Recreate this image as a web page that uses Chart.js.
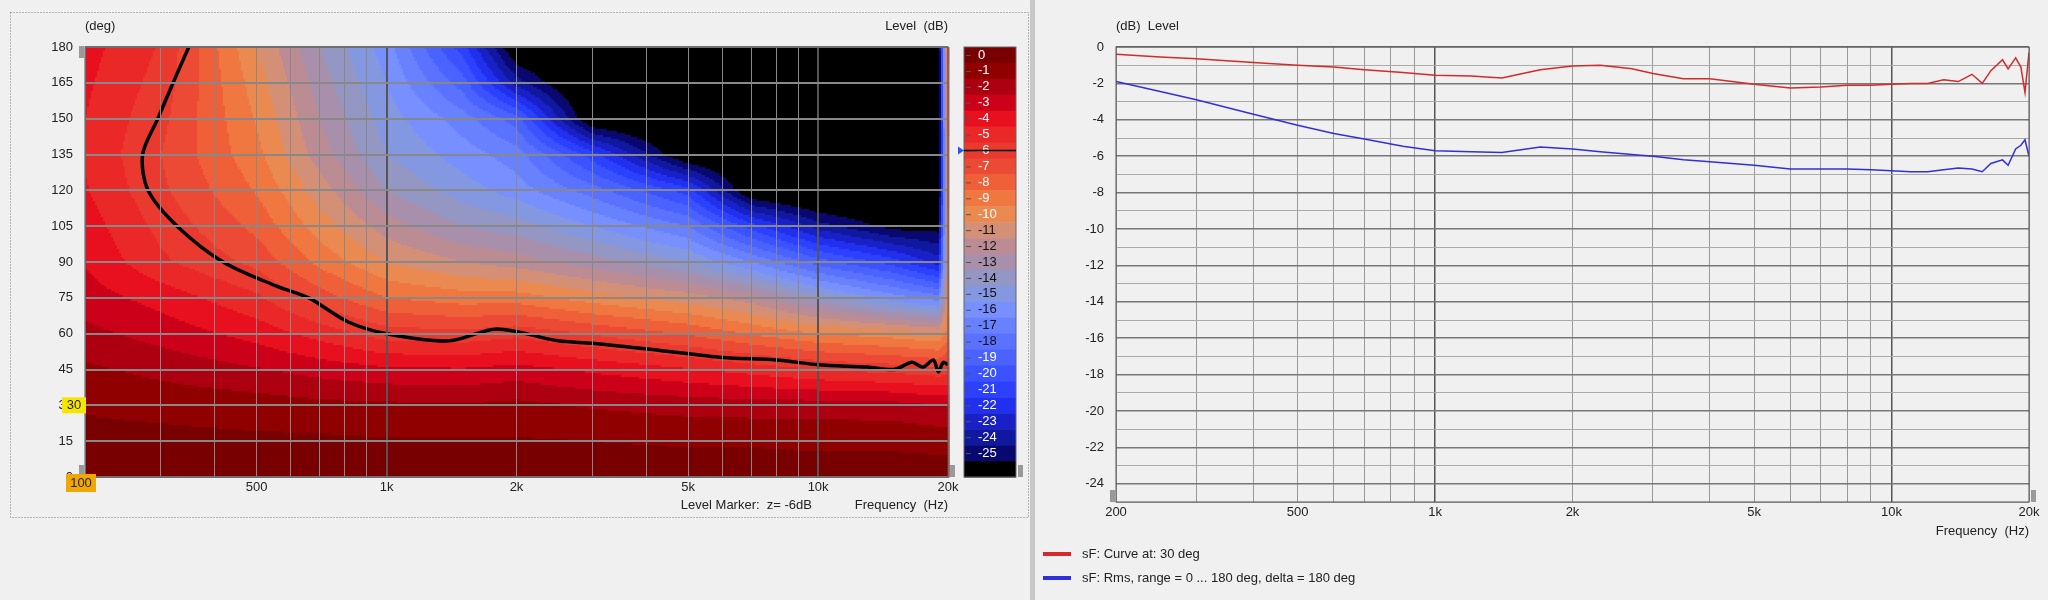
<!DOCTYPE html>
<html>
<head>
<meta charset="utf-8">
<script src="https://cdn.jsdelivr.net/npm/chart.js@4.4.1/dist/chart.umd.min.js"></script>
<style>
  body { margin: 0; background: #f0f0f0; width: 2048px; height: 600px; overflow: hidden; font-family: "Liberation Sans", sans-serif; }
  #left { position: absolute; left: 0; top: 0; }
  #right { position: absolute; left: 1036px; top: 0; }
  #sep { position: absolute; left: 1030px; top: 0; width: 5px; height: 600px; background: #c8c8c8; }
</style>
</head>
<body>
<canvas id="left" width="1030" height="520"></canvas>
<div id="sep"></div>
<canvas id="right" width="1012" height="600"></canvas>
<script>
// polar map grid (levels in dB, rows = angle, cols = frequency)
const heatFreqs = [200, 300, 500, 700, 1000, 1500, 2000, 3000, 5000, 7000, 10000, 15000, 19000, 20000];
const heatAngles = [0, 15, 30, 45, 60, 75, 90, 105, 120, 135, 150, 165, 180];
const heatLevels = [
  [0, 0, 0, 0, 0, 0, 0, 0, 0, 0, 0, 0, 0, 0],
  [-0.2, -0.2, -0.3, -0.3, -0.4, -0.4, -0.4, -0.5, -0.6, -0.6, -0.7, -0.7, -0.8, -0.8],
  [-0.6, -0.8, -1.0, -1.2, -1.3, -1.4, -1.2, -1.6, -1.9, -2.0, -2.0, -2.1, -2.5, -2.5],
  [-1.3, -1.8, -2.4, -2.9, -3.3, -3.4, -3.1, -3.7, -4.4, -4.9, -5.5, -5.9, -6.2, -6],
  [-2.2, -2.9, -3.9, -4.9, -6.0, -6.2, -5.8, -6.6, -7.6, -8.6, -9.5, -10, -10.5, -9],
  [-3.0, -3.9, -5.3, -7.0, -8.5, -9.0, -9.0, -10, -11, -12, -14, -16, -17, -10],
  [-3.6, -5.3, -6.8, -8.8, -10.5, -11.5, -12, -13, -14.5, -16.5, -19, -21, -23, -11],
  [-4.0, -5.8, -7.8, -10, -12, -13.5, -14, -15.5, -17.5, -21, -24, -26, -26, -10],
  [-4.4, -6.3, -8.6, -11, -13.5, -15, -16, -18, -21, -27, -28, -28, -28, -9],
  [-4.6, -6.5, -9.2, -12, -14.5, -16, -17, -21, -27, -28, -28, -28, -28, -9],
  [-4.5, -6.2, -9.6, -12.5, -15, -17, -19, -27, -28, -28, -28, -28, -28, -8],
  [-4.3, -5.9, -10, -13, -15.5, -19, -24, -28, -28, -28, -28, -28, -28, -8],
  [-4.1, -5.6, -10.5, -13.5, -16, -21, -27, -28, -28, -28, -28, -28, -28, -7]
];
// -6 dB level marker contour
const markerFreqs = [348, 320, 295, 272, 280, 327, 418, 554, 660, 813, 1000, 1400, 1800, 2500, 3000, 4300, 6000, 8000, 10000, 13000, 15000, 16500, 17500, 18500, 19000, 19500, 20000];
const markerAngles = [180, 165, 150, 135, 120, 105, 90, 80, 75, 65, 60, 57, 62, 57, 56, 53, 50, 49, 47, 46, 45, 48, 46, 49, 44, 48, 47];
// colour scale bands
const bandLevels = [0, -1, -2, -3, -4, -5, -6, -7, -8, -9, -10, -11, -12, -13, -14, -15, -16, -17, -18, -19, -20, -21, -22, -23, -24, -25, -26];
const bandColors = ['#780000', '#900000', '#ac0010', '#cc0018', '#e8101e', '#ea2828', '#ea3a30', '#ec4a34', '#ef6038', '#f07840', '#ea8a50', '#d49076', '#bc8c94', '#a890ac', '#9496c4', '#8498e2', '#7890ff', '#6882ff', '#5a72ff', '#4a62ff', '#3a52ff', '#2c40ff', '#2030ee', '#1a20c8', '#1018a0', '#080870', '#000000'];
const xTicks = [200, 300, 400, 500, 600, 700, 800, 900, 1000, 2000, 3000, 4000, 5000, 6000, 7000, 8000, 9000, 10000, 20000];
const xMajor = [1000, 10000];
const xLabels = { 200: '200', 500: '500', 1000: '1k', 2000: '2k', 5000: '5k', 10000: '10k', 20000: '20k' };
const angleTicks = [0, 15, 30, 45, 60, 75, 90, 105, 120, 135, 150, 165, 180];
// response curves
const curveFreqs = [200, 250, 300, 400, 500, 600, 700, 850, 1000, 1200, 1400, 1700, 2000, 2300, 2700, 3000, 3500, 4000, 5000, 6000, 7000, 8000, 9000, 10000, 11000, 12000, 13000, 14000, 15000, 15800, 16500, 17500, 18000, 18700, 19200, 19600, 20000];
const curve30 = [-0.4, -0.55, -0.65, -0.85, -1.0, -1.1, -1.25, -1.4, -1.55, -1.6, -1.7, -1.25, -1.05, -1.0, -1.2, -1.45, -1.75, -1.75, -2.05, -2.25, -2.2, -2.1, -2.1, -2.05, -2.0, -2.0, -1.8, -1.9, -1.5, -2.0, -1.3, -0.7, -1.2, -0.6, -1.1, -2.5, -0.3];
const curveRms = [-1.9, -2.45, -2.9, -3.7, -4.3, -4.75, -5.05, -5.45, -5.7, -5.75, -5.8, -5.5, -5.6, -5.75, -5.9, -6.0, -6.2, -6.3, -6.5, -6.7, -6.7, -6.7, -6.75, -6.8, -6.85, -6.85, -6.75, -6.65, -6.7, -6.85, -6.4, -6.2, -6.5, -5.6, -5.4, -5.1, -6.0];
const dbTicks = [0, -2, -4, -6, -8, -10, -12, -14, -16, -18, -20, -22, -24];

const FONT = '"Liberation Sans", "DejaVu Sans", sans-serif';

function levelAt(f, a) {
  const lf = Math.log10(f);
  let i = 0;
  while (i < heatFreqs.length - 2 && Math.log10(heatFreqs[i + 1]) < lf) i++;
  let j = 0;
  while (j < heatAngles.length - 2 && heatAngles[j + 1] < a) j++;
  const l0 = Math.log10(heatFreqs[i]), l1 = Math.log10(heatFreqs[i + 1]);
  const tx = Math.min(1, Math.max(0, (lf - l0) / (l1 - l0)));
  const ty = Math.min(1, Math.max(0, (a - heatAngles[j]) / (heatAngles[j + 1] - heatAngles[j])));
  const r0 = heatLevels[j], r1 = heatLevels[j + 1];
  const top = r0[i] * (1 - tx) + r0[i + 1] * tx;
  const bot = r1[i] * (1 - tx) + r1[i + 1] * tx;
  return top * (1 - ty) + bot * ty;
}
function colorFor(v) {
  let k = Math.floor(-v + 0.5);
  if (k < 0) k = 0;
  if (k > bandColors.length - 1) k = bandColors.length - 1;
  return bandColors[k];
}

const heatPlugin = {
  id: 'heat',
  beforeDatasetsDraw(chart) {
    const { ctx, chartArea: ca, scales } = chart;
    const step = 2;
    ctx.save();
    for (let px = ca.left; px < ca.right; px += step) {
      const f = scales.x.getValueForPixel(px + step / 2);
      for (let py = ca.top; py < ca.bottom; py += step) {
        const a = scales.y.getValueForPixel(py + step / 2);
        ctx.fillStyle = colorFor(levelAt(f, a));
        ctx.fillRect(px, py, step + 0.5, step + 0.5);
      }
    }
    ctx.restore();
  },
  afterDraw(chart) {
    const { ctx, chartArea: ca, scales } = chart;
    const yc = scales.yc;
    const bx = 964, bw = 52;
    ctx.save();
    // colour bar
    bandLevels.forEach((lv, k) => {
      const y0 = yc.getPixelForValue(lv + 1), y1 = yc.getPixelForValue(lv);
      ctx.fillStyle = bandColors[k];
      ctx.fillRect(bx, y0, bw, y1 - y0 + 0.5);
      if (lv > -26) {
        ctx.fillStyle = (lv <= -11 && lv >= -18) ? '#111111' : '#ffffff';
        ctx.font = '13px ' + FONT;
        ctx.textAlign = 'left';
        ctx.textBaseline = 'middle';
        ctx.fillText(String(lv), bx + 14, (y0 + y1) / 2);
        ctx.fillStyle = '#555';
        ctx.fillRect(bx + 2, (y0 + y1) / 2, 5, 1);
      }
    });
    ctx.strokeStyle = '#666';
    ctx.strokeRect(bx, ca.top, bw, ca.bottom - ca.top);
    // -6 marker on the bar
    const my = yc.getPixelForValue(-5.5);
    ctx.strokeStyle = '#000'; ctx.lineWidth = 1.5;
    ctx.beginPath(); ctx.moveTo(bx, my); ctx.lineTo(bx + bw, my); ctx.stroke();
    ctx.fillStyle = '#3050ff';
    ctx.beginPath(); ctx.moveTo(bx - 6, my - 4); ctx.lineTo(bx, my); ctx.lineTo(bx - 6, my + 4); ctx.fill();
    // plot frame and handles
    ctx.strokeStyle = '#555'; ctx.lineWidth = 1;
    ctx.strokeRect(ca.left, ca.top, ca.right - ca.left, ca.bottom - ca.top);
    ctx.fillStyle = '#999';
    ctx.fillRect(ca.left - 6, ca.top - 1, 5, 12);
    ctx.fillRect(ca.left - 6, ca.bottom - 12, 5, 12);
    ctx.fillRect(ca.right + 2, ca.bottom - 12, 5, 12);
    ctx.fillRect(bx + bw + 2, ca.bottom - 12, 5, 12);
    // titles
    ctx.fillStyle = '#222';
    ctx.font = '13px ' + FONT;
    ctx.textBaseline = 'middle';
    ctx.textAlign = 'left';
    ctx.fillText('(deg)', 85, 26);
    ctx.textAlign = 'right';
    ctx.fillText('Level  (dB)', 948, 26);
    ctx.fillText('Frequency  (Hz)', 948, 505);
    ctx.fillText('Level Marker:  z= -6dB', 812, 505);
    // value markers
    const y30 = scales.y.getPixelForValue(30);
    ctx.fillStyle = '#f5e600';
    ctx.fillRect(62, y30 - 8, 24, 16);
    ctx.fillStyle = '#222'; ctx.textAlign = 'center';
    ctx.fillText('30', 74, y30);
    ctx.fillStyle = '#f0a800';
    ctx.fillRect(66, ca.bottom - 3, 30, 18);
    ctx.fillStyle = '#222';
    ctx.fillText('100', 81, ca.bottom + 6);
    // outer dotted frame
    ctx.setLineDash([1, 2]); ctx.strokeStyle = '#777';
    ctx.strokeRect(10.5, 12.5, 1018, 505);
    ctx.restore();
  }
};

new Chart(document.getElementById('left'), {
  type: 'scatter',
  data: {
    datasets: [{
      data: markerFreqs.map((f, i) => ({ x: f, y: markerAngles[i] })),
      showLine: true, borderColor: '#000', borderWidth: 3.5, pointRadius: 0, tension: 0.3
    }]
  },
  options: {
    responsive: false, animation: false,
    layout: { padding: { top: 47, right: 82, bottom: 0, left: 0 } },
    plugins: { legend: { display: false }, tooltip: { enabled: false } },
    scales: {
      x: {
        type: 'logarithmic', min: 200, max: 20000,
        afterBuildTicks: s => { s.ticks = xTicks.map(v => ({ value: v })); },
        afterFit: s => { s.height = 43; },
        ticks: { autoSkip: false, maxRotation: 0, color: '#222', font: { family: FONT, size: 13 }, callback: v => xLabels[v] || '' },
        grid: { z: 1, color: ctx => (ctx.tick && xMajor.includes(ctx.tick.value)) ? '#555' : '#888', lineWidth: ctx => (ctx.tick && xMajor.includes(ctx.tick.value)) ? 2 : 1, drawTicks: false },
        border: { display: false }
      },
      y: {
        min: 0, max: 180,
        afterBuildTicks: s => { s.ticks = angleTicks.map(v => ({ value: v })); },
        afterFit: s => { s.width = 85; },
        ticks: { color: '#222', font: { family: FONT, size: 13 }, padding: 12 },
        grid: { z: 1, color: '#888', lineWidth: 2, drawTicks: false },
        border: { display: false }
      },
      yc: { display: false, min: -26, max: 1 }
    }
  },
  plugins: [heatPlugin]
});

const rightPlugin = {
  id: 'rightDeco',
  afterDraw(chart) {
    const { ctx, chartArea: ca } = chart;
    ctx.save();
    ctx.strokeStyle = '#555';
    ctx.strokeRect(ca.left, ca.top, ca.right - ca.left, ca.bottom - ca.top);
    ctx.fillStyle = '#999';
    ctx.fillRect(ca.left - 6, ca.bottom - 12, 5, 12);
    ctx.fillRect(ca.right + 2, ca.bottom - 12, 5, 12);
    ctx.fillStyle = '#222';
    ctx.font = '13px ' + FONT;
    ctx.textBaseline = 'middle';
    ctx.textAlign = 'left';
    ctx.fillText('(dB)  Level', 80, 26);
    ctx.textAlign = 'right';
    ctx.fillText('Frequency  (Hz)', ca.right, 531);
    ctx.textAlign = 'left';
    chart.data.datasets.forEach((ds, i) => {
      const y = 554 + i * 24;
      ctx.fillStyle = ds.borderColor;
      ctx.fillRect(7, y - 2, 28, 4);
      ctx.fillStyle = '#222';
      ctx.fillText(ds.label, 46, y);
    });
    ctx.restore();
  }
};

new Chart(document.getElementById('right'), {
  type: 'line',
  data: {
    datasets: [
      { label: 'sF: Curve at: 30 deg', data: curveFreqs.map((f, i) => ({ x: f, y: curve30[i] })), borderColor: '#d42a2a', borderWidth: 1.5, pointRadius: 0 },
      { label: 'sF: Rms, range = 0 ... 180 deg, delta = 180 deg', data: curveFreqs.map((f, i) => ({ x: f, y: curveRms[i] })), borderColor: '#3030d8', borderWidth: 1.5, pointRadius: 0 }
    ]
  },
  options: {
    responsive: false, animation: false,
    layout: { padding: { top: 47, right: 19, bottom: 58, left: 0 } },
    plugins: { legend: { display: false }, tooltip: { enabled: false } },
    scales: {
      x: {
        type: 'logarithmic', min: 200, max: 20000,
        afterBuildTicks: s => { s.ticks = xTicks.map(v => ({ value: v })); },
        afterFit: s => { s.height = 40; },
        ticks: { autoSkip: false, maxRotation: 0, color: '#222', font: { family: FONT, size: 13 }, callback: v => xLabels[v] || '' },
        grid: { color: ctx => (ctx.tick && xMajor.includes(ctx.tick.value)) ? '#555' : '#999', lineWidth: ctx => (ctx.tick && xMajor.includes(ctx.tick.value)) ? 1.5 : 1, drawTicks: false },
        border: { display: false }
      },
      y: {
        min: -25, max: 0,
        afterBuildTicks: s => { s.ticks = []; for (let v = 0; v >= -25; v--) s.ticks.push({ value: v }); },
        afterFit: s => { s.width = 80; },
        ticks: { autoSkip: false, color: '#222', font: { family: FONT, size: 13 }, padding: 12, callback: v => dbTicks.includes(v) ? String(v) : '' },
        grid: { color: ctx => (ctx.tick && ctx.tick.value % 2 === 0) ? '#777' : '#aaa', lineWidth: ctx => (ctx.tick && ctx.tick.value % 2 === 0) ? 1.5 : 1, drawTicks: false },
        border: { display: false }
      }
    }
  },
  plugins: [rightPlugin]
});
</script>
</body>
</html>
